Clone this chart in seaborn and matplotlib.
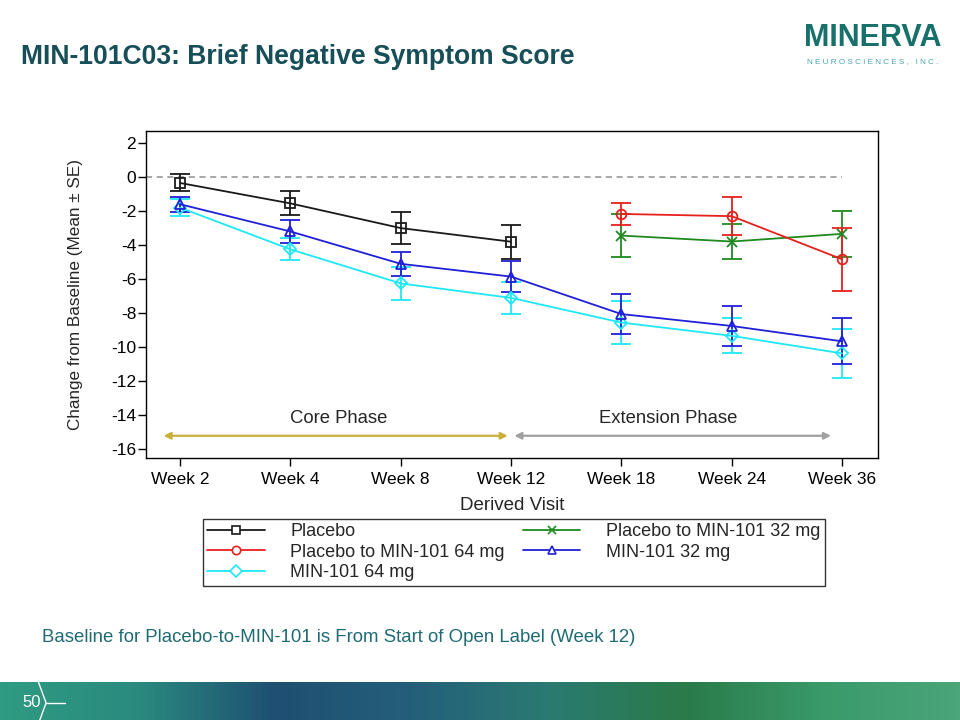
import numpy as np
import pandas as pd
import matplotlib
matplotlib.use("Agg")
import matplotlib.pyplot as plt
import seaborn as sns
from matplotlib.colors import LinearSegmentedColormap
from matplotlib.lines import Line2D

sns.set_style("white")
plt.rcParams['font.family'] = ['Liberation Sans', 'DejaVu Sans']
plt.rcParams['axes.unicode_minus'] = False

# ---- data ----
visits = ["Week 2", "Week 4", "Week 8", "Week 12", "Week 18", "Week 24", "Week 36"]

placebo_mean = [-0.35, -1.55, -3.0, -3.8]
placebo_se = [0.5, 0.7, 0.95, 1.0]

pbo64_mean = [-2.17, -2.3, -4.83]
pbo64_se = [0.62, 1.1, 1.85]

pbo32_mean = [-3.44, -3.79, -3.34]
pbo32_se = [1.25, 1.05, 1.35]

min32_mean = [-1.6, -3.2, -5.1, -5.85, -8.05, -8.75, -9.65]
min32_se = [0.45, 0.65, 0.7, 0.9, 1.15, 1.15, 1.35]

min64_mean = [-1.8, -4.25, -6.25, -7.1, -8.55, -9.33, -10.36]
min64_se = [0.5, 0.65, 0.95, 0.95, 1.25, 1.03, 1.45]

series = [
    ("Placebo", visits[:4], placebo_mean, placebo_se, "#1a1a1a", "s", 7),
    ("Placebo to MIN-101 64 mg", visits[4:], pbo64_mean, pbo64_se, "#e8201c", "o", 7),
    ("MIN-101 64 mg", visits, min64_mean, min64_se, "#1ee8f5", "D", 6),
    ("Placebo to MIN-101 32 mg", visits[4:], pbo32_mean, pbo32_se, "#1f8a1f", "x", 7),
    ("MIN-101 32 mg", visits, min32_mean, min32_se, "#2020d8", "^", 7),
]

rows = []
for name, vs, m, se, c, mk, ms in series:
    for v, mm, ss in zip(vs, m, se):
        rows.append({"group": name, "visit": v, "pos": visits.index(v), "mean": mm, "se": ss})
df = pd.DataFrame(rows)

fig = plt.figure(figsize=(9.6, 7.2), dpi=100)
ax = fig.add_axes([0.152, 0.364, 0.763, 0.454])

# reference line
ax.hlines(0, -0.31, 6, colors="#909090", linestyles=(0, (4, 3)), lw=1.1, zorder=1)

order = ["Placebo", "MIN-101 64 mg", "MIN-101 32 mg", "Placebo to MIN-101 32 mg", "Placebo to MIN-101 64 mg"]
smap = {s[0]: s for s in series}
for name in order:
    _, vs, m, se, c, mk, ms = smap[name]
    sub = df[df.group == name]
    ax.errorbar(sub["pos"], sub["mean"], yerr=sub["se"], fmt="none", ecolor=c,
                elinewidth=1.3, capsize=7, capthick=1.3, zorder=2)
    sns.lineplot(data=sub, x="pos", y="mean", ax=ax, color=c, lw=1.3,
                 marker=mk, markersize=ms, markerfacecolor="none" if mk != "x" else c,
                 markeredgecolor=c, markeredgewidth=1.3, label=name, legend=False,
                 errorbar=None, zorder=3)

ax.set_xlim(-0.31, 6.33)
ax.set_ylim(-16.5, 2.7)
ax.set_xticks(range(len(visits)))
ax.set_xticklabels(visits)
ax.set_yticks(np.arange(-16, 3, 2))
ax.tick_params(axis="both", direction="out", length=6, width=1, colors="black",
               labelsize=12.5, bottom=True, left=True, pad=4)
ax.tick_params(axis="y", pad=1)
for sp in ax.spines.values():
    sp.set_color("black")
    sp.set_linewidth(1.0)
ax.set_xlabel("Derived Visit", fontsize=13.5, labelpad=7)
ax.set_ylabel("Change from Baseline (Mean ± SE)", fontsize=12.3, labelpad=20)

# phase arrows
ax.annotate("", xy=(-0.15, -15.2), xytext=(2.97, -15.2),
            arrowprops=dict(arrowstyle="<|-|>", color="#c9b03c", lw=1.6, mutation_scale=10,
                            shrinkA=0, shrinkB=0))
ax.annotate("", xy=(3.03, -15.2), xytext=(5.9, -15.2),
            arrowprops=dict(arrowstyle="<|-|>", color="#a0a0a0", lw=1.6, mutation_scale=10,
                            shrinkA=0, shrinkB=0))
ax.text(1.44, -14.2, "Core Phase", ha="center", va="center", fontsize=13.3)
ax.text(4.42, -14.2, "Extension Phase", ha="center", va="center", fontsize=13.3)

# legend
leg_names = ["Placebo", "Placebo to MIN-101 64 mg", "MIN-101 64 mg",
             "Placebo to MIN-101 32 mg", "MIN-101 32 mg"]
handles = []
for name in leg_names:
    _, vs, m, se, c, mk, ms = smap[name]
    handles.append(Line2D([], [], color=c, lw=1.3, marker=mk, markersize=6,
                          markerfacecolor="white" if mk != "x" else c,
                          markeredgecolor=c, markeredgewidth=1.2))
leg = fig.legend(handles, leg_names, ncol=2, loc="center", bbox_to_anchor=(0.535, 0.233),
                 fontsize=13, frameon=True, fancybox=False, edgecolor="black",
                 handlelength=3.2, labelspacing=0.2, columnspacing=1.0,
                 borderpad=0.25, handletextpad=1.4)
leg.get_frame().set_linewidth(1.0)

# title & branding
fig.text(0.022, 0.921, "MIN-101C03: Brief Negative Symptom Score", fontsize=19.1,
         fontweight="bold", color="#174f58", ha="left", va="center")
fig.text(0.909, 0.947, "MINERVA", fontsize=22, fontweight="bold", color="#17706a",
         ha="center", va="center")
fig.text(0.909, 0.914, "N E U R O S C I E N C E S ,   I N C .", fontsize=5.9, color="#4aa3b3",
         ha="center", va="center")
fig.text(0.044, 0.115, "Baseline for Placebo-to-MIN-101 is From Start of Open Label (Week 12)",
         fontsize=13.4, color="#1f6b73", ha="left", va="center")

# bottom banner
bax = fig.add_axes([0, 0, 1, 38 / 720])
bax.set_axis_off()
cmap = LinearSegmentedColormap.from_list("banner", ["#2f9b82", "#2a8a7e", "#1f4f72", "#245f7a",
                                                     "#2b7a72", "#2a7a4a", "#3a9a6a", "#4aa57a"])
bax.imshow(np.linspace(0, 1, 256)[None, :], aspect="auto", cmap=cmap, extent=[0, 1, 0, 1])
bax.set_xlim(0, 1)
bax.set_ylim(0, 1)
bax.text(0.023, 0.45, "50", color="white", fontsize=12, ha="left", va="center")
bax.plot([0.040, 0.048, 0.040], [1.0, 0.45, -0.1], color="white", lw=1)
bax.plot([0.048, 0.068], [0.45, 0.45], color="white", lw=1)

fig.savefig("out.png", dpi=100)
